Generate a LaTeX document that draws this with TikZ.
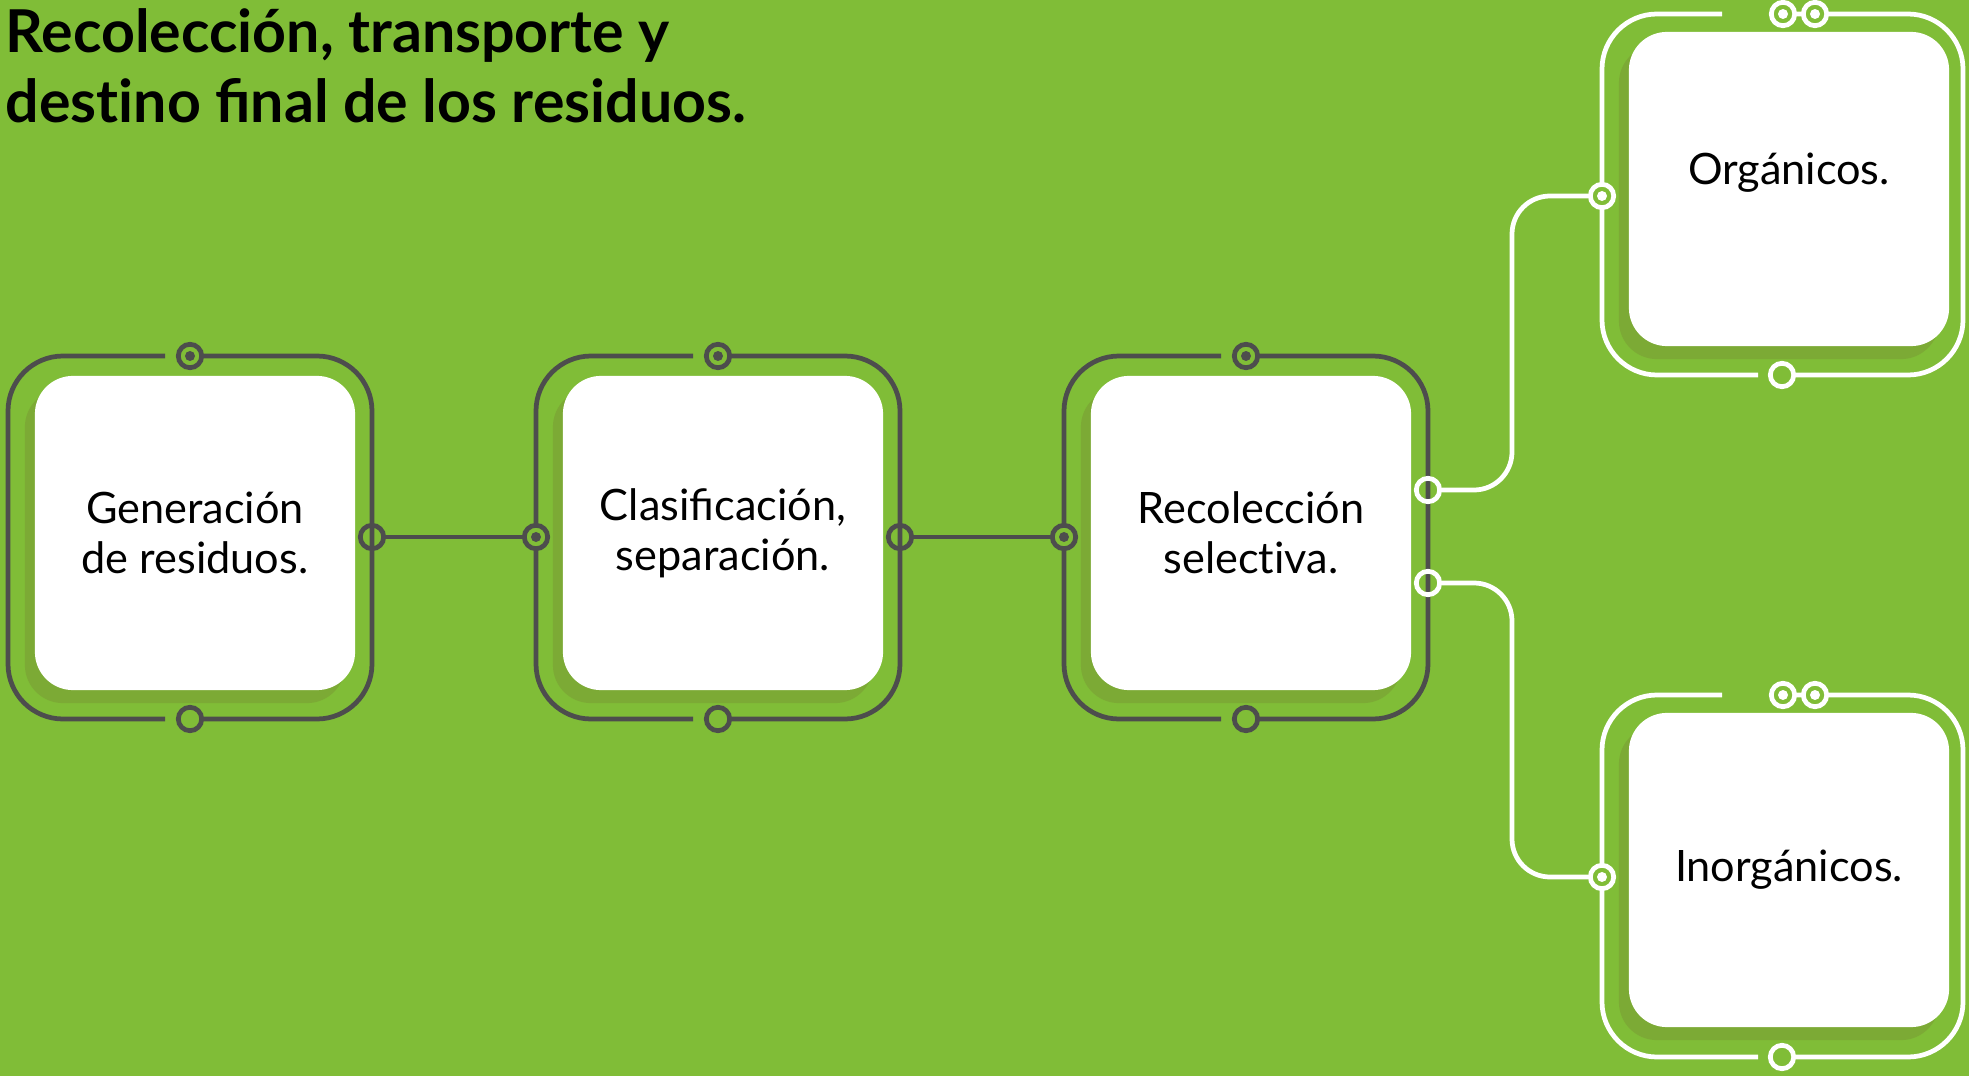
\documentclass[tikz,border=0pt]{standalone}
\usepackage{fontspec}
\setmainfont{Lato}
\usetikzlibrary{positioning}
\usetikzlibrary{shadows}

\definecolor{leaf}{RGB}{128,189,55}
\definecolor{leafdark}{RGB}{124,170,53}
\definecolor{wire}{RGB}{77,77,77}

\tikzset{
    card/.style={rectangle, rounded corners=0.38cm, fill=white, inner sep=0,
        minimum width=3.2cm, minimum height=3.14cm, align=center,
        font=\fontsize{12.3}{14.2}\selectfont,
        drop shadow={shadow xshift=-0.1cm, shadow yshift=-0.13cm, fill=leafdark, opacity=1}},
    frame/.style={draw=#1, line width=1.35pt, rounded corners=0.55cm},
    frame/.default=wire,
    ring/.style={circle, draw=#1, line width=1.35pt, inner sep=0, minimum size=0.234cm},
    ring/.default=wire,
    hole/.style={ring=#1, fill=leaf},
    hole/.default=wire,
    dot/.style={ring=#1, fill=leaf,
        path picture={\fill[#1] (path picture bounding box.center) circle (0.05cm);}},
    dot/.default=wire,
    link/.style={draw=#1, line width=1.35pt, rounded corners=0.38cm},
    link/.default=wire
}

\begin{document}
\begin{tikzpicture}[x=0.01cm, y=-0.01cm]
    \fill[leaf] (0,0) rectangle (1969,1076);
    \useasboundingbox (0,0) rectangle (1969,1076);

    % title
    \node[anchor=north west, inner sep=0, align=left,
        font=\fontsize{16.8}{19.9}\selectfont\bfseries] (T) at (5,8)
        {Recolección, transporte y\\dest\kern0pt ino final de los residuos.};

    % cards
    \node[card] (A) at (195,533) {Generación\\de residuos.};
    \node[card] (B) at (723,533) {Clasificación,\\separación.};
    \node[card] (C) at (1251,533) {Recolección\\select\kern0pt iva.};
    \node[card] (D) at (1789,189) {\raisebox{0.4cm}{Orgánicos.}};
    \node[card] (E) at (1789,870) {Inorgánicos.};

    % frames
    \draw[frame] (190,356) -| (372,719) -- (190,719);
    \draw[frame] (165,719) -| (8,356) -- (165,356);
    \draw[frame] (718,356) -| (900,719) -- (718,719);
    \draw[frame] (693,719) -| (536,356) -- (693,356);
    \draw[frame] (1246,356) -| (1428,719) -- (1246,719);
    \draw[frame] (1221,719) -| (1064,356) -- (1221,356);
    \draw[frame=white] (1783,14) -| (1963,375) -- (1782,375);
    \draw[frame=white] (1758,375) -| (1602,14) -- (1722,14);
    \draw[frame=white] (1783,695) -| (1963,1057) -- (1782,1057);
    \draw[frame=white] (1758,1057) -| (1602,695) -- (1722,695);

    % rings
    \node[dot] (At) at (190,356) {};
    \node[hole] (Ab) at (190,719) {};
    \node[ring] (Ar) at (372,537) {};
    \node[dot] (Bl) at (536,537) {};
    \node[dot] (Bt) at (718,356) {};
    \node[hole] (Bb) at (718,719) {};
    \node[ring] (Br) at (900,537) {};
    \node[dot] (Cl) at (1064,537) {};
    \node[dot] (Ct) at (1246,356) {};
    \node[hole] (Cb) at (1246,719) {};
    \node[ring=white] (Cr) at (1428,490) {};
    \node[ring=white] (Cs) at (1428,583) {};
    \node[dot=white] (Dl) at (1602,196) {};
    \node[dot=white] (Dt) at (1783,14) {};
    \node[dot=white] (Du) at (1815,14) {};
    \node[hole=white] (Db) at (1782,375) {};
    \node[dot=white] (El) at (1602,877) {};
    \node[dot=white] (Et) at (1783,695) {};
    \node[dot=white] (Eu) at (1815,695) {};
    \node[hole=white] (Eb) at (1782,1057) {};

    % links
    \draw[link] (Ar) -- (Bl);
    \draw[link] (Br) -- (Cl);
    \draw[link=white] (Cr) -- ++(84,0) |- (Dl);
    \draw[link=white] (Cs) -- ++(84,0) |- (El);
    \draw[link=white] (Dt) -- (Du);
    \draw[link=white] (Et) -- (Eu);
\end{tikzpicture}
\end{document}
